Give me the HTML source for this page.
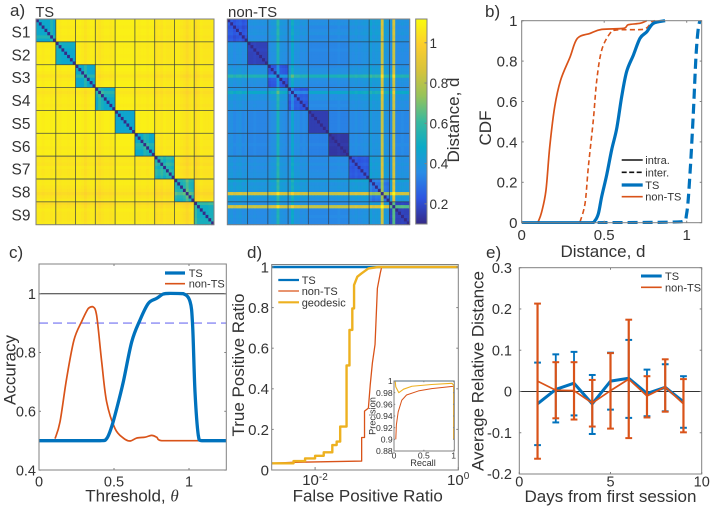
<!DOCTYPE html>
<html lang="en">
<head>
<meta charset="utf-8">
<title>Distance comparison figure</title>
<style>
html,body{margin:0;padding:0;background:#fff;width:711px;height:509px;overflow:hidden}
svg{position:absolute;left:0;top:0;font-family:"Liberation Sans",sans-serif;filter:blur(0.35px)}
</style>
</head>
<body>
<svg id="fig" xmlns="http://www.w3.org/2000/svg" width="711" height="509" viewBox="0 0 711 509">
<defs>
<linearGradient id="parula" x1="0" y1="1" x2="0" y2="0">
<stop offset="0" stop-color="#352a87"/><stop offset=".125" stop-color="#2d55e1"/><stop offset=".25" stop-color="#288ce6"/><stop offset=".375" stop-color="#0aaac8"/><stop offset=".5" stop-color="#38b99e"/><stop offset=".625" stop-color="#96c35a"/><stop offset=".75" stop-color="#d7c33c"/><stop offset=".875" stop-color="#fcce2e"/><stop offset="1" stop-color="#f9fb0e"/>
</linearGradient>
<clipPath id="clipB"><rect x="521.7" y="14" width="180" height="210"/></clipPath>
<clipPath id="clipC"><rect x="39" y="264" width="187.3" height="206"/></clipPath>
<clipPath id="clipD"><rect x="271.7" y="264" width="186.6" height="206"/></clipPath>
<clipPath id="clipInset"><rect x="394" y="379" width="60.5" height="72"/></clipPath>
<clipPath id="clipE"><rect x="519.3" y="267.7" width="182.4" height="206.3"/></clipPath>
</defs>
</svg>
<script>
/* ---------- heatmap data (one value per session / per sample) ---------- */
const sessions = ['S1','S2','S3','S4','S5','S6','S7','S8','S9'];
const tsIntra = [0.47,0.47,0.47,0.47,0.46,0.48,0.50,0.52,0.50];
const tsInter = [1.085,1.075,1.085,1.075,1.095,1.085,1.065,1.065,1.065];
const tsWithinProfile = [
 0,0,0,0,0,.08,0,  .04,.03,0,0,0,0,0,  0,0,0,.1,0,0,0,  0,.1,.05,0,0,0,0,  0,0,0,0,0,0,0,
 0,0,0,.08,.05,0,0,  .05,0,.06,0,.05,.04,0,  .03,0,0,.03,.12,.03,0,  .1,0,0,0,0,.02,.02];
const tsAcrossProfile = [
 0,0,-.01,0,0,-.01,0,  -.005,-.01,0,0,-.005,0,0,  0,0,-.01,-.03,-.01,0,0,  -.01,-.025,-.01,0,0,-.01,0,  0,0,0,0,0,0,0,
 0,-.01,0,0,-.01,0,0,  -.02,-.01,-.02,0,-.01,-.01,0,  0,0,-.01,-.02,-.04,-.02,0,  -.04,-.02,0,-.01,-.01,-.01,0];
const nonTsIntra = [0.20,0.17,0.21,0.22,0.16,0.14,0.20,0.24,0.17];
const nonTsInter = [0.36,0.35,0.37,0.36,0.33,0.33,0.35,0.38,0.36];
const nonTsProfile = [
 .02,.03,0,.02,.03,0,.02,  0,0,.01,0,0,0,0,  0,.02,.02,.18,.02,.01,0,  .01,.12,.02,.03,0,.01,0,  0,0,0,0,0,0,0,
 0,0,0,.01,0,0,0,  .02,.01,.03,.01,.02,.03,.02,  .06,.02,.04,.03,.48,.04,.02,  .01,.48,0,0,.01,0,0];
const colorbarTicks = [0.2,0.4,0.6,0.8,1];

/* ---------- panel b: CDF ---------- */
const bXTicks = [0,0.5,1];
const bYTicks = [0,0.2,0.4,0.6,0.8,1];
const bTsIntraD = [0,.42,.444,.465,.485,.515,.545,.576,.606,.636,.677,.717,.758,.798,.869];
const bTsIntraP = [0,0,.01,.046,.13,.236,.36,.467,.624,.748,.83,.913,.945,.987,1];
const bTsInterD = [.46,.97,1.0,1.02,1.04,1.056,1.069,1.08];
const bTsInterP = [0,.005,.046,.244,.54,.82,.954,1];
const bNonIntraD = [.1,.12,.147,.17,.2,.236,.293,.337,.414,.485,.616,.646,.717,.758];
const bNonIntraP = [.005,.05,.16,.376,.574,.706,.82,.912,.937,.957,.962,.98,.987,1];
const bNonInterD = [.354,.384,.404,.434,.455,.485,.535,.576,.737,.788,.808];
const bNonInterP = [.005,.096,.277,.508,.706,.855,.937,.954,.957,.995,1];

/* ---------- panel c: accuracy ---------- */
const cXTicks = [0,0.5,1];
const cYTicks = [0.4,0.6,0.8,1];
const cTsT = [0,.407,.451,.484,.518,.562,.618,.673,.729,.784,.829,.873,.962,1.007,1.024,1.04,1.062,1.084,1.25];
const cTsA = [.5,.5,.507,.547,.609,.7,.836,.91,.967,.984,.999,1.001,1,.973,.893,.666,.518,.5,.5];
const cNonT = [.107,.14,.184,.233,.284,.329,.358,.384,.418,.451,.507,.562,.607,.651,.707,.751,.784,.818,1.073];
const cNonA = [.507,.564,.711,.842,.905,.95,.956,.927,.768,.632,.541,.509,.499,.509,.512,.518,.512,.5,.5];

/* ---------- panel d: ROC ---------- */
const dYTicks = [0,0.2,0.4,0.6,0.8,1];
const dTsFpr = [.0025,1];
const dTsTpr = [1,1];
const dNonFpr = [.0025,.005,.0447,.0447,.049,.049,.0555,.0589,.0631,.0687,.0741,.0813,.0851,1];
const dNonTpr = [.033,.038,.044,.16,.16,.29,.305,.42,.527,.618,.895,.97,1,1];
const dGeoFpr = [.0025,.005,.005,.00724,.00724,.01,.01,.0132,.0132,.0174,.0174,.02,.02,.0224,.0224,.0275,.0275,.0302,.0302,.0331,.0331,.035,.035,.0389,.0447,.0555,.0766,1];
const dGeoTpr = [.033,.033,.044,.044,.057,.057,.07,.07,.087,.087,.123,.123,.14,.14,.214,.214,.515,.515,.69,.69,.796,.796,.911,.952,.969,.993,1,1];
const insetXTicks = [0,0.5,1];
const insetYTicks = [0.88,0.9,0.92,0.94,0.96,0.98,1];
const insetTsR = [.01,1];
const insetTsP = [1,1];
const insetNonR = [.03,.04,.07,.13,.21,.41,.63,1,1];
const insetNonP = [.9,.925,.947,.967,.976,.983,.987,.991,.9];
const insetGeoR = [.02,.03,.08,.16,.3,.63,.97,1,1];
const insetGeoP = [1,.99,.98,.986,.991,.994,.996,.993,.9];

/* ---------- panel e: relative distance ---------- */
const eXTicks = [0,5,10];
const eYTicks = [-0.2,-0.1,0,0.1,0.2,0.3];
const days = [1,2,3,4,5,6,7,8,9];
const eTsMean = [-.03,.005,.02,-.03,.025,.032,-.005,.01,-.025];
const eTsLow = [-.13,-.075,-.058,-.103,-.044,-.064,-.06,-.048,-.088];
const eTsHigh = [.07,.09,.096,.04,.094,.125,.053,.066,.037];
const eNonMean = [.025,.003,.002,-.028,.002,.03,-.011,.011,-.03];
const eNonLow = [-.163,-.065,-.068,-.085,-.09,-.113,-.063,-.049,-.099];
const eNonHigh = [.213,.071,.071,.028,.093,.174,.037,.078,.03];

/* ---------- helpers ---------- */
const NS = 'http://www.w3.org/2000/svg';
const fig = document.getElementById('fig');
const BLUE = '#0072bd', ORANGE = '#d95319', YELLOW = '#edb120', INK = '#333333', BOX = '#808080';

function make(tag, name, attrs, parent) {
  const el = document.createElementNS(NS, tag);
  
  
  for (const k in attrs) el.setAttribute(k, attrs[k]);
  (parent || fig).appendChild(el);
  return el;
}
function group(name) { return make('g', name, {}); }
function label(p, name, str, x, y, size, anchor, rot) {
  const a = {x: x, y: y, 'font-size': size, fill: INK, 'text-anchor': anchor || 'start'};
  if (rot) a.transform = 'rotate(' + rot + ' ' + x + ' ' + y + ')';
  const t = make('text', name, a, p);
  t.textContent = str;
  return t;
}
function seg(p, name, x1, y1, x2, y2, color, w, dash) {
  const a = {x1: x1, y1: y1, x2: x2, y2: y2, stroke: color, 'stroke-width': w};
  if (dash) a['stroke-dasharray'] = dash;
  return make('line', name, a, p);
}
function curve(p, name, xs, ys, fx, fy, color, w, dash, clip) {
  const pts = xs.map((v, i) => fx(v).toFixed(2) + ',' + fy(ys[i]).toFixed(2)).join(' ');
  const a = {points: pts, fill: 'none', stroke: color, 'stroke-width': w, 'stroke-linejoin': 'round'};
  if (dash) a['stroke-dasharray'] = dash;
  if (clip) a['clip-path'] = 'url(#' + clip + ')';
  return make('polyline', name, a, p);
}
/* same as curve, but drawn through the read values with a rounded spline */
function smooth(p, name, xs, ys, fx, fy, color, w, dash, clip) {
  const P = xs.map((v, i) => [fx(v), fy(ys[i])]);
  let d = 'M' + P[0][0].toFixed(2) + ' ' + P[0][1].toFixed(2);
  for (let i = 0; i < P.length - 1; i++) {
    const a = P[Math.max(0, i - 1)], b = P[i], c = P[i + 1], e = P[Math.min(P.length - 1, i + 2)];
    const c1x = b[0] + (c[0] - a[0]) / 6, c1y = b[1] + (c[1] - a[1]) / 6;
    const c2x = c[0] - (e[0] - b[0]) / 6, c2y = c[1] - (e[1] - b[1]) / 6;
    const lim = v => Math.min(Math.max(b[0], c[0]), Math.max(Math.min(b[0], c[0]), v));
    const limY = v => Math.min(Math.max(b[1], c[1]), Math.max(Math.min(b[1], c[1]), v));
    d += 'C' + lim(c1x).toFixed(2) + ' ' + limY(c1y).toFixed(2) + ' ' + lim(c2x).toFixed(2) + ' ' + limY(c2y).toFixed(2) + ' ' + c[0].toFixed(2) + ' ' + c[1].toFixed(2);
  }
  const attrs = {d: d, fill: 'none', stroke: color, 'stroke-width': w, 'stroke-linejoin': 'round'};
  if (dash) attrs['stroke-dasharray'] = dash;
  if (clip) attrs['clip-path'] = 'url(#' + clip + ')';
  return make('path', name, attrs, p);
}
function linear(d0, d1, r0, r1) { return v => r0 + (v - d0) * (r1 - r0) / (d1 - d0); }
function box(p, name, x, y, w, h) {
  return make('rect', name, {x: x, y: y, width: w, height: h, fill: 'none', stroke: BOX, 'stroke-width': 1}, p);
}
function ticks(p, prefix, xt, yt, fx, fy, x0, x1, y0, y1, len, xFmt, yFmt, size, xBase, yRight) {
  xt.forEach(v => {
    const x = fx(v);
    seg(p, prefix + '-x-tick', x, y1, x, y1 - len, BOX, 1);
    seg(p, prefix + '-x-tick-top', x, y0, x, y0 + len, BOX, 1);
    if (xFmt) label(p, prefix + '-x-tick-label', xFmt(v), x, xBase, size, 'middle');
  });
  yt.forEach(v => {
    const y = fy(v);
    seg(p, prefix + '-y-tick', x0, y, x0 + len, y, BOX, 1);
    seg(p, prefix + '-y-tick-right', x1, y, x1 - len, y, BOX, 1);
    if (yFmt) label(p, prefix + '-y-tick-label', yFmt(v), yRight, y + size * 0.36, size, 'end');
  });
}
const fmt = v => String(Math.round(v * 100) / 100);

/* ---------- colormap + heatmaps ---------- */
const parulaStops = [[53,42,135],[45,85,225],[40,140,230],[10,170,200],[56,185,158],[150,195,90],[215,195,60],[252,206,46],[249,251,14]];
function parula(d) {
  let t = (d - 0.1) / (1.12 - 0.1);
  t = Math.max(0, Math.min(1, t)) * 8;
  const i = Math.min(7, Math.floor(t)), f = t - i;
  const a = parulaStops[i], b = parulaStops[i + 1];
  return 'rgb(' + a.map((c, k) => Math.round(c + (b[k] - c) * f)).join(',') + ')';
}
function heatmap(name, x0, y0, x1, y1, valueAt) {
  const g = group(name);
  const n = sessions.length * 7;
  const fx = linear(0, n, x0, x1), fy = linear(0, n, y0, y1);
  for (let r = 0; r < n; r++) for (let c = 0; c < n; c++) {
    const cell = document.createElementNS(NS, 'rect');
    
    
    cell.setAttribute('x', fx(c).toFixed(2));
    cell.setAttribute('y', fy(r).toFixed(2));
    cell.setAttribute('width', (fx(1) - fx(0) + 0.4).toFixed(2));
    cell.setAttribute('height', (fy(1) - fy(0) + 0.4).toFixed(2));
    cell.setAttribute('fill', parula(valueAt(r, c)));
    g.appendChild(cell);
  }
  sessions.forEach((s, i) => {
    if (i === 0) return;
    seg(g, 'session-grid-line-vertical', fx(i * 7), y0, fx(i * 7), y1, '#2f3a48', 0.9).setAttribute('stroke-opacity', '0.75');
    seg(g, 'session-grid-line-horizontal', x0, fy(i * 7), x1, fy(i * 7), '#2f3a48', 0.9).setAttribute('stroke-opacity', '0.75');
  });
  box(g, name + '-frame', x0, y0, x1 - x0, y1 - y0);
  return {g: g, fy: fy};
}
const sess = i => Math.floor(i / 7);
const tsMap = heatmap('ts-heatmap', 36, 19, 214, 224.7, (r, c) => {
  if (r === c) return 0.1;
  if (sess(r) === sess(c)) return tsIntra[sess(r)] + tsWithinProfile[r] + tsWithinProfile[c];
  return (tsInter[sess(r)] + tsInter[sess(c)]) / 2 + tsAcrossProfile[r] + tsAcrossProfile[c];
});
const nonMap = heatmap('non-ts-heatmap', 227.3, 19, 409.7, 224.7, (r, c) => {
  if (r === c) return 0.1;
  if (sess(r) === sess(c)) return nonTsIntra[sess(r)] + nonTsProfile[r] + nonTsProfile[c];
  return (nonTsInter[sess(r)] + nonTsInter[sess(c)]) / 2 + nonTsProfile[r] + nonTsProfile[c];
});
const gA = group('panel-a');
label(gA, 'panel-a-label', 'a)', 10, 16, 17);
label(gA, 'ts-heatmap-title', 'TS', 35.5, 17, 14.5);
label(gA, 'non-ts-heatmap-title', 'non-TS', 228, 17, 15);
sessions.forEach((s, i) => {
  const y = tsMap.fy(i * 7 + 3.5);
  label(gA, 'session-label-' + s.toLowerCase(), s, 21, y + 7.1, 15.5, 'middle');
});

/* colorbar */
const gCb = group('colorbar');
make('rect', 'colorbar-ramp', {x: 415.7, y: 19, width: 11.3, height: 205, fill: 'url(#parula)', stroke: BOX, 'stroke-width': 1}, gCb);
const cbY = linear(0.1, 1.118, 224, 19);
colorbarTicks.forEach(v => {
  seg(gCb, 'colorbar-tick', 424.5, cbY(v), 427, cbY(v), BOX, 1);
  label(gCb, 'colorbar-tick-label', fmt(v), 429.5, cbY(v) + 5, 13.5);
});
label(gCb, 'colorbar-title', 'Distance, d', 459, 120, 17, 'middle', -90);

/* ---------- panel b ---------- */
(function () {
  const g = group('panel-b');
  const x = linear(0, 1, 521.7, 686.7), y = linear(0, 1, 222.7, 20.7);
  label(g, 'panel-b-label', 'b)', 485, 17, 17);
  smooth(g, 'non-ts-inter-line', bNonInterD, bNonInterP, x, y, ORANGE, 1.6, '5 3.2', 'clipB');
  smooth(g, 'non-ts-intra-line', bNonIntraD, bNonIntraP, x, y, ORANGE, 1.7, null, 'clipB');
  smooth(g, 'ts-inter-line', bTsInterD, bTsInterP, x, y, BLUE, 3.2, '10 5', 'clipB');
  smooth(g, 'ts-intra-line', bTsIntraD, bTsIntraP, x, y, BLUE, 3.2, null, 'clipB');
  box(g, 'panel-b-frame', 521.7, 20.7, 180, 202);
  ticks(g, 'panel-b', bXTicks, bYTicks, x, y, 521.7, 701.7, 20.7, 222.7, 2, fmt, fmt, 15, 240, 517.5);
  label(g, 'panel-b-y-title', 'CDF', 491, 128, 17, 'middle', -90);
  label(g, 'panel-b-x-title', 'Distance, d', 603, 257, 17, 'middle');
  seg(g, 'legend-intra-swatch', 621.7, 160, 642.7, 160, '#111', 1.6);
  label(g, 'legend-intra-label', 'intra.', 645.3, 164, 11);
  seg(g, 'legend-inter-swatch', 621.7, 172.3, 642.7, 172.3, '#111', 1.6, '5 2.5');
  label(g, 'legend-inter-label', 'inter.', 645.3, 176.3, 11);
  seg(g, 'legend-ts-swatch', 621.7, 185, 642.7, 185, BLUE, 3.2);
  label(g, 'legend-ts-label', 'TS', 645.3, 189, 11);
  seg(g, 'legend-non-ts-swatch', 621.7, 196.7, 642.7, 196.7, ORANGE, 1.6);
  label(g, 'legend-non-ts-label', 'non-TS', 645.3, 200.7, 11);
})();

/* ---------- panel c ---------- */
(function () {
  const g = group('panel-c');
  const x = linear(0, 1, 39, 189), y = linear(0.5, 1, 440.7, 293.7);
  label(g, 'panel-c-label', 'c)', 9, 258, 17);
  seg(g, 'accuracy-one-line', 39, y(1), 226.3, y(1), '#333', 1);
  seg(g, 'accuracy-threshold-line', 39, y(0.9), 226.3, y(0.9), '#6f6ff0', 1.1, '9 5');
  smooth(g, 'non-ts-accuracy-line', cNonT, cNonA, x, y, ORANGE, 1.7, null, 'clipC');
  smooth(g, 'ts-accuracy-line', cTsT, cTsA, x, y, BLUE, 3.3, null, 'clipC');
  box(g, 'panel-c-frame', 39, 264, 187.3, 206);
  ticks(g, 'panel-c', cXTicks, cYTicks, x, y, 39, 226.3, 264, 470, 2, fmt, fmt, 14.5, 486.7, 36);
  const t = label(g, 'panel-c-x-title', 'Threshold, ', 132, 501.7, 17, 'middle');
  const th = make('tspan', 'theta-symbol', {'font-family': '"Liberation Serif",serif', 'font-style': 'italic'}, t);
  th.textContent = 'θ';
  label(g, 'panel-c-y-title', 'Accuracy', 15.5, 370, 17, 'middle', -90);
  seg(g, 'legend-ts-swatch', 165, 273, 185, 273, BLUE, 3.2);
  label(g, 'legend-ts-label', 'TS', 188.7, 277, 11);
  seg(g, 'legend-non-ts-swatch', 165, 283.7, 185, 283.7, ORANGE, 1.6);
  label(g, 'legend-non-ts-label', 'non-TS', 188.7, 287.7, 11);
})();

/* ---------- panel d ---------- */
(function () {
  const g = group('panel-d');
  const x = v => 458.3 + Math.log10(v) * 71.6, y = linear(0, 1, 470, 267);
  label(g, 'panel-d-label', 'd)', 247, 258, 17);
  curve(g, 'ts-roc-line', dTsFpr, dTsTpr, x, y, BLUE, 2.4, null, 'clipD');
  curve(g, 'non-ts-roc-line', dNonFpr, dNonTpr, x, y, ORANGE, 1.3, null, 'clipD');
  curve(g, 'geodesic-roc-line', dGeoFpr, dGeoTpr, x, y, YELLOW, 2.4, null, 'clipD');
  box(g, 'panel-d-frame', 271.7, 264.5, 186.6, 205.5);
  dYTicks.forEach(v => {
    seg(g, 'panel-d-y-tick', 271.7, y(v), 273.7, y(v), BOX, 1);
    seg(g, 'panel-d-y-tick-right', 458.3, y(v), 456.3, y(v), BOX, 1);
    label(g, 'panel-d-y-tick-label', fmt(v), 269, y(v) + 5.4, 15, 'end');
  });
  [0.01, 1].forEach(v => {
    seg(g, 'panel-d-x-tick', x(v), 470, x(v), 467, BOX, 1);
  });
  const t1 = label(g, 'panel-d-x-tick-label', '10', 315, 485, 15, 'middle');
  const s1 = make('tspan', 'panel-d-x-tick-exponent', {dy: -5, 'font-size': 10}, t1);
  s1.textContent = '-2';
  const t2 = label(g, 'panel-d-x-tick-label', '10', 447, 485, 15);
  const s2 = make('tspan', 'panel-d-x-tick-exponent', {dy: -6, 'font-size': 10}, t2);
  s2.textContent = '0';
  label(g, 'panel-d-x-title', 'False Positive Ratio', 367.7, 501.7, 17, 'middle');
  label(g, 'panel-d-y-title', 'True Positive Ratio', 244, 365, 17, 'middle', -90);
  seg(g, 'legend-ts-swatch', 278.3, 280, 299, 280, BLUE, 2.2);
  label(g, 'legend-ts-label', 'TS', 301.7, 284, 11);
  seg(g, 'legend-non-ts-swatch', 278.3, 291, 299, 291, ORANGE, 1.3);
  label(g, 'legend-non-ts-label', 'non-TS', 301.7, 295, 11);
  seg(g, 'legend-geodesic-swatch', 278.3, 302.3, 299, 302.3, YELLOW, 2.2);
  label(g, 'legend-geodesic-label', 'geodesic', 301.7, 306.3, 11);

  /* inset */
  const ins = make('g', 'precision-recall-inset', {}, g);
  const ix = linear(0, 1, 394, 453.7), iy = linear(0.88, 1, 451, 381);
  make('rect', 'inset-background', {x: 394, y: 381, width: 60.3, height: 70, fill: '#fff'}, ins);
  curve(ins, 'inset-non-ts-line', insetNonR, insetNonP, ix, iy, ORANGE, 1, null, 'clipInset');
  curve(ins, 'inset-geodesic-line', insetGeoR, insetGeoP, ix, iy, YELLOW, 1.1, null, 'clipInset');
  curve(ins, 'inset-ts-line', insetTsR, insetTsP, ix, iy, '#3f9fe0', 1.3, null, 'clipInset');
  box(ins, 'inset-frame', 394, 381, 60.3, 70);
  ticks(ins, 'inset', insetXTicks, insetYTicks, ix, iy, 394, 454.3, 381, 451, 1.2, fmt, fmt, 8.6, 458.5, 392.7);
  label(ins, 'inset-x-title', 'Recall', 423, 466, 9.2, 'middle');
  label(ins, 'inset-y-title', 'Precision', 375.5, 416, 9.2, 'middle', -90);
})();

/* ---------- panel e ---------- */
(function () {
  const g = group('panel-e');
  const x = linear(0, 10, 519.3, 701.7), y = linear(-0.2, 0.3, 474, 267.7);
  label(g, 'panel-e-label', 'e)', 486, 258, 17);
  seg(g, 'zero-line', 519.3, y(0), 701.7, y(0), '#333', 1);
  function errorBars(name, low, high, color, w) {
    days.forEach((d, i) => {
      const X = x(d);
      seg(g, name + '-error-bar', X, y(low[i]), X, y(high[i]), color, w);
      seg(g, name + '-error-cap-low', X - 3.4, y(low[i]), X + 3.4, y(low[i]), color, 2);
      seg(g, name + '-error-cap-high', X - 3.4, y(high[i]), X + 3.4, y(high[i]), color, 2);
    });
  }
  errorBars('ts', eTsLow, eTsHigh, BLUE, 1.8);
  curve(g, 'ts-mean-line', days, eTsMean, x, y, BLUE, 3, null, 'clipE');
  errorBars('non-ts', eNonLow, eNonHigh, ORANGE, 2.2);
  curve(g, 'non-ts-mean-line', days, eNonMean, x, y, ORANGE, 1.7, null, 'clipE');
  box(g, 'panel-e-frame', 519.3, 267.7, 182.4, 206.3);
  ticks(g, 'panel-e', eXTicks, eYTicks, x, y, 519.3, 701.7, 267.7, 474, 2, fmt, fmt, 14.5, 486.7, 512);
  label(g, 'panel-e-x-title', 'Days from first session', 610.5, 502, 17, 'middle');
  label(g, 'panel-e-y-title', 'Average Relative Distance', 483.3, 371, 17, 'middle', -90);
  seg(g, 'legend-ts-swatch', 641, 276, 661.7, 276, BLUE, 3);
  label(g, 'legend-ts-label', 'TS', 665, 280, 11);
  seg(g, 'legend-non-ts-swatch', 641, 287.3, 661.7, 287.3, ORANGE, 1.6);
  label(g, 'legend-non-ts-label', 'non-TS', 665, 291.3, 11);
})();
</script>
</body>
</html>
